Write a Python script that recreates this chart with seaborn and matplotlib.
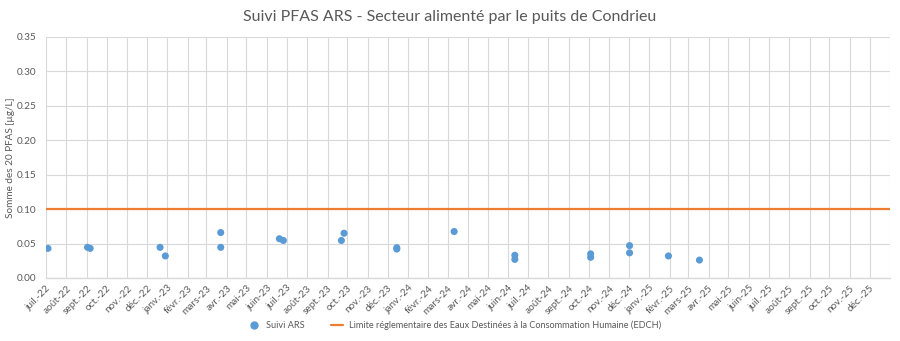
import matplotlib
matplotlib.use("Agg")
import matplotlib.pyplot as plt
from matplotlib.lines import Line2D
import seaborn as sns
import pandas as pd

# Sampling dates and summed PFAS concentrations (µg/L)
sample_dates = [
    "2022-07-04",
    "2022-09-02", "2022-09-06",
    "2022-12-21", "2022-12-29",
    "2023-03-23", "2023-03-23",
    "2023-06-20", "2023-06-26",
    "2023-09-22", "2023-09-26",
    "2023-12-15", "2023-12-15",
    "2024-03-11",
    "2024-06-11", "2024-06-11",
    "2024-10-04", "2024-10-04",
    "2024-12-02", "2024-12-02",
    "2025-01-30",
    "2025-03-18",
]
pfas_sum = [
    0.043,
    0.0445, 0.043,
    0.0445, 0.032,
    0.066, 0.0445,
    0.057, 0.0545,
    0.0545, 0.065,
    0.044, 0.042,
    0.0675,
    0.033, 0.027,
    0.035, 0.030,
    0.047, 0.0365,
    0.032,
    0.026,
]
edch_limit = 0.10

month_names = ["janv.", "févr.", "mars", "avr.", "mai", "juin",
               "juil.", "août", "sept.", "oct.", "nov.", "déc."]
y_ticks = [0.00, 0.05, 0.10, 0.15, 0.20, 0.25, 0.30, 0.35]

series_label = "Suivi ARS"
limit_label = "Limite réglementaire des Eaux Destinées à la Consommation Humaine (EDCH)"
title = "Suivi PFAS ARS - Secteur alimenté par le puits de Condrieu"
y_label = "Somme des 20 PFAS [µg/L]"

sns.set_theme(style="white")
plt.rcParams["font.family"] = ["Lato", "DejaVu Sans"]

df = pd.DataFrame({"date": pd.to_datetime(sample_dates), "pfas": pfas_sum})

fig, ax = plt.subplots(figsize=(9, 3.41), dpi=100)
fig.subplots_adjust(left=0.0511, right=0.9889, top=0.8915, bottom=0.1848)

blue = "#5b9bd5"
orange = "#ed7d31"
grid_c = "#d9d9d9"
text_c = "#595959"

x_start = pd.Timestamp("2022-07-01")
x_end = pd.Timestamp("2026-01-01")
month_ticks = pd.date_range(x_start, "2025-12-01", freq="MS")

ax.axhline(edch_limit, color=orange, lw=1.6, zorder=2)
sns.scatterplot(data=df, x="date", y="pfas", ax=ax, color=blue, s=26,
                edgecolor="none", zorder=3, legend=False)

ax.set_xlim(x_start, x_end)
ax.set_ylim(0, 0.35)
ax.set_yticks(y_ticks)
ax.set_yticklabels([f"{v:.2f}" for v in y_ticks])

ax.set_xticks(list(month_ticks) + [x_end])
labels = [f"{month_names[d.month - 1]}-{d.year % 100:02d}" for d in month_ticks] + [""]
ax.set_xticklabels(labels, rotation=45, ha="right", rotation_mode="anchor")

ax.grid(True, color=grid_c, lw=0.8)
ax.set_axisbelow(True)
for side in ["top", "left", "right"]:
    ax.spines[side].set_visible(False)
ax.spines["bottom"].set_color(grid_c)
ax.spines["bottom"].set_linewidth(1.0)

ax.tick_params(axis="x", length=0, labelsize=7.2, colors=text_c, pad=4)
ax.tick_params(axis="y", length=0, labelsize=7.2, colors=text_c, pad=7)

ax.set_xlabel("")
ax.set_ylabel(y_label, fontsize=7.2, color=text_c)
ax.yaxis.set_label_coords(-0.037, 0.5)
fig.suptitle(title, x=0.5, y=0.97, fontsize=11.5, color=text_c)

handles = [
    Line2D([], [], marker="o", ls="none", color=blue, markersize=5),
    Line2D([], [], color=orange, lw=1.6),
]
fig.legend(handles, [series_label, limit_label], loc="center",
           bbox_to_anchor=(0.505, 0.045), ncol=2, frameon=False,
           fontsize=6.6, labelcolor=text_c, handlelength=1.3,
           columnspacing=2.8, handletextpad=0.7)

fig.savefig("out.png", dpi=100)
